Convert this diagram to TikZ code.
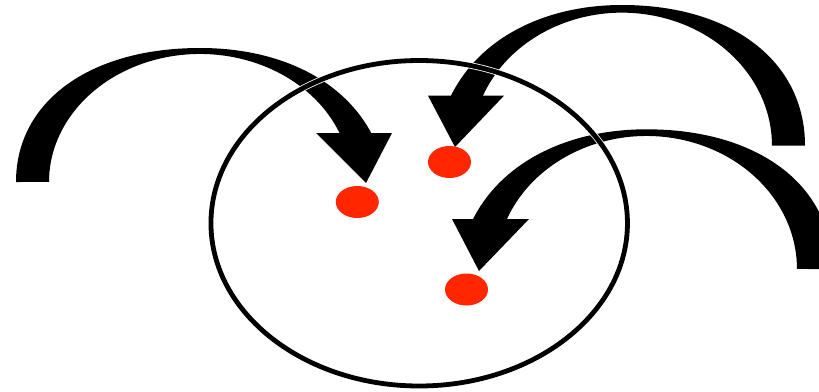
\documentclass[tikz,border=0pt]{standalone}
\usetikzlibrary{shapes.geometric}
\definecolor{dotred}{RGB}{255,38,0}
\begin{document}
\begin{tikzpicture}[x=1pt,y=-1pt,
  dot/.style={ellipse,fill=dotred,draw=none,minimum width=43pt,minimum height=32pt,inner sep=0pt},
  arrowbody/.style={fill=black,draw=none},
  ring/.style={ellipse,draw=black,line width=4.8pt,minimum width=416.5pt,minimum height=325.5pt,inner sep=0pt},
  ringhalo/.style={ellipse,draw=white,line width=6.4pt,minimum width=416.5pt,minimum height=325.5pt,inner sep=0pt}]
\useasboundingbox (0,0) rectangle (819,391);
\fill[white] (0,0) rectangle (819,391);
% arrow 1
\fill[arrowbody] (16,182) .. controls (16,101.6) and (89.6,48) .. (200,48)
  .. controls (281,48) and (345.2,80.8) .. (372.9,136.2)
  -- (341.9,138.2) arc[start angle=340,end angle=180,x radius=151,y radius=128] -- cycle;
\fill[arrowbody] (316,133) -- (392,133) -- (366,183) -- cycle;
% arrow 2
\fill[arrowbody] (805,145.7) .. controls (805,61.3) and (731.8,5) .. (622,5)
  .. controls (541.5,5) and (476.2,40.6) .. (449.4,99)
  -- (480.5,101.5) arc[start angle=199.4,end angle=360,x radius=150,y radius=133] -- cycle;
\fill[arrowbody] (428,95.7) -- (504,95.7) -- (455,147) -- cycle;
% arrow 3
\fill[arrowbody] (832.3,269) .. controls (832.3,185.2) and (758,129.3) .. (646.5,129.3)
  .. controls (564.7,129.3) and (498.7,164.5) .. (471.4,222.4)
  -- (504.6,224.6) arc[start angle=199.5,end angle=360,x radius=150.5,y radius=133] -- cycle;
\fill[arrowbody] (452,219) -- (529,219) -- (479,271) -- cycle;
% big ellipse
\node[ringhalo] (halo) at (419.2,223.25) {};
\node[ring] (set) at (419.2,223.25) {};
% dots
\node[dot] (d1) at (357.3,202) {};
\node[dot] (d2) at (449.5,162) {};
\node[dot] (d3) at (466.5,289.5) {};
\end{tikzpicture}
\end{document}
